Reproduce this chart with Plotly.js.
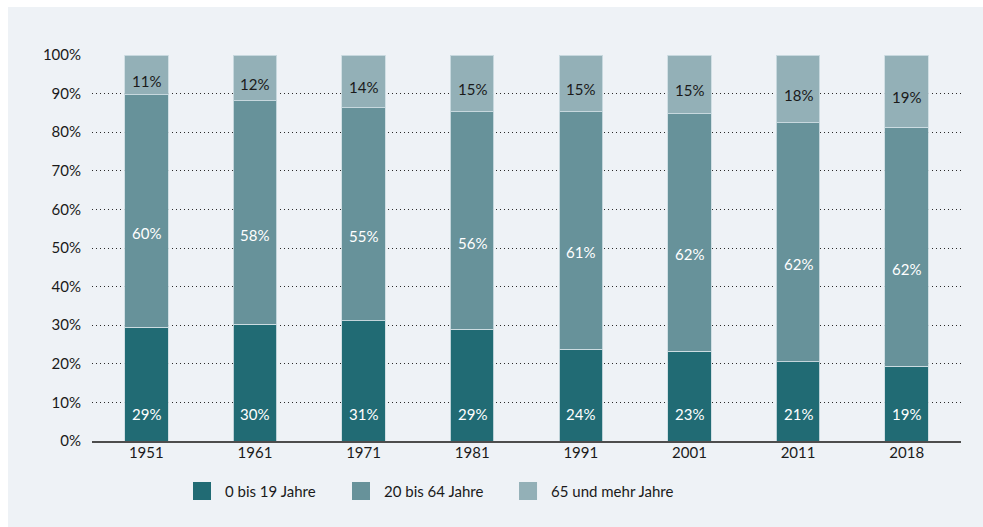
<!DOCTYPE html>
<html>
<head>
<meta charset="utf-8">
<script src="https://cdn.plot.ly/plotly-3.0.1.min.js"></script>
<style>
  html, body { margin: 0; padding: 0; background: #ffffff; }
  #chart { position: absolute; left: 8px; top: 7px; width: 975px; height: 520px; }
</style>
</head>
<body>
<div id="chart"></div>
<script>
// Data (shares of population, percent)
const years = ['1951', '1961', '1971', '1981', '1991', '2001', '2011', '2018'];
const age0to19 = [29.5, 30.2, 31.1, 28.9, 23.8, 23.3, 20.5, 19.4];
const age20to64 = [60.2, 57.9, 55.2, 56.4, 61.5, 61.5, 62.0, 61.9];
const age65plus = [10.3, 11.9, 13.7, 14.7, 14.7, 15.2, 17.5, 18.7];
const label0to19 = ['29%', '30%', '31%', '29%', '24%', '23%', '21%', '19%'];
const label20to64 = ['60%', '58%', '55%', '56%', '61%', '62%', '62%', '62%'];
const label65plus = ['11%', '12%', '14%', '15%', '15%', '15%', '18%', '19%'];
const seriesNames = ['0 bis 19 Jahre', '20 bis 64 Jahre', '65 und mehr Jahre'];
const yTickVals = [0, 10, 20, 30, 40, 50, 60, 70, 80, 90, 100];
const yTickText = ['0%', '10%', '20%', '30%', '40%', '50%', '60%', '70%', '80%', '90%', '100%'];

const colors = ['#216b74', '#67929a', '#93b0b7'];
const FONT = 'Lato, "Open Sans", sans-serif';
const outline = { color: 'rgba(205,221,226,0.9)', width: 1 };

function barTrace(name, vals, color) {
  return {
    type: 'bar', name: name, x: years, y: vals,
    marker: { color: color, line: outline },
    width: 0.4, hoverinfo: 'skip', showlegend: false
  };
}
// legend-only entries (larger square swatches), one legend each for exact spacing
function legendTrace(name, color, legendId) {
  return {
    type: 'scatter', mode: 'markers', name: name, x: [null], y: [null],
    marker: { symbol: 'square', size: 16, color: color, line: { color: color, width: 2 } },
    hoverinfo: 'skip', showlegend: true, legend: legendId
  };
}

const data = [
  barTrace(seriesNames[0], age0to19, colors[0]),
  barTrace(seriesNames[1], age20to64, colors[1]),
  barTrace(seriesNames[2], age65plus, colors[2]),
  legendTrace(seriesNames[0], colors[0], 'legend'),
  legendTrace(seriesNames[1], colors[1], 'legend2'),
  legendTrace(seriesNames[2], colors[2], 'legend3')
];

const annotations = [];
years.forEach((yr, i) => {
  const b = age0to19[i], m = age20to64[i], t = age65plus[i];
  annotations.push({ x: i, y: 0, yshift: 27, text: label0to19[i], showarrow: false,
    font: { family: FONT, size: 15, color: '#ffffff' } });
  annotations.push({ x: i, y: b + m / 2, yshift: -22, text: label20to64[i], showarrow: false,
    font: { family: FONT, size: 15, color: '#ffffff' } });
  annotations.push({ x: i, y: b + m + t / 2, yshift: -6, text: label65plus[i], showarrow: false,
    font: { family: FONT, size: 15, color: '#1a1a1a' } });
});

function legendBox(xPos) {
  return {
    orientation: 'h', x: xPos, xanchor: 'left', xref: 'paper',
    y: -0.13, yanchor: 'middle',
    font: { family: FONT, size: 15, color: '#1a1a1a' },
    itemclick: false, itemdoubleclick: false, itemwidth: 36,
    bgcolor: 'rgba(0,0,0,0)'
  };
}

const layout = {
  width: 975, height: 520,
  paper_bgcolor: '#eef2f6', plot_bgcolor: '#eef2f6',
  margin: { l: 84, r: 22, t: 48, b: 86 },
  barmode: 'stack',
  font: { family: FONT, size: 15, color: '#1a1a1a' },
  showlegend: true,
  legend: legendBox(0.1001),
  legend2: legendBox(0.2831),
  legend3: legendBox(0.4753),
  xaxis: {
    type: 'category', range: [-0.5, years.length - 0.5], autorange: false,
    showgrid: false, zeroline: false,
    showline: true, linecolor: '#4d4d4d', linewidth: 2,
    ticks: '', tickfont: { family: FONT, size: 15, color: '#1a1a1a' },
    ticklabelstandoff: -3, fixedrange: true
  },
  yaxis: {
    range: [0, 100], autorange: false, tickvals: yTickVals, ticktext: yTickText,
    showgrid: true, gridcolor: '#2a2a2a', griddash: '1px,3px', gridwidth: 1,
    zeroline: false, showline: false, ticks: '',
    tickfont: { family: FONT, size: 15, color: '#1a1a1a' },
    ticklabelstandoff: 10, fixedrange: true
  },
  annotations: annotations
};

Plotly.newPlot('chart', data, layout, { displayModeBar: false, staticPlot: true });
</script>
</body>
</html>
